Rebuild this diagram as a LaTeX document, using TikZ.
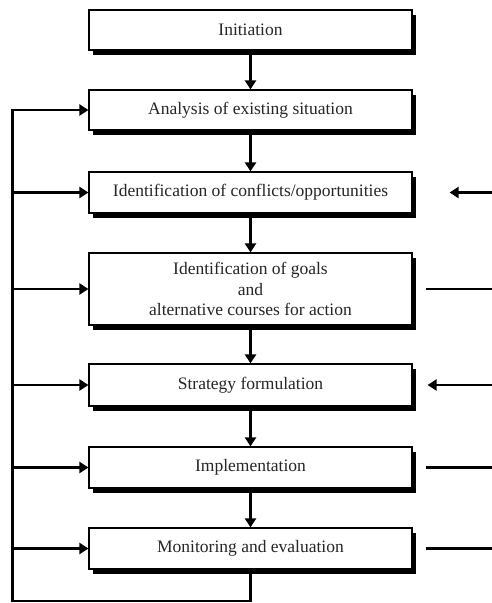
\documentclass[tikz,border=0pt]{standalone}
\usepackage{fontspec}
\setmainfont{Liberation Serif}
\usetikzlibrary{arrows.meta,shadows}

\begin{document}
\begin{tikzpicture}[x=1pt,y=1pt,
  stage/.style={draw=black,line width=1.2pt,fill=white,minimum width=323pt,
    inner sep=0pt,align=center,text=black!85,font=\fontsize{17.5}{20.5}\selectfont,
    drop shadow={shadow xshift=4pt,shadow yshift=-4.5pt,fill=black,opacity=1}},
  flow/.style={line width=2.5pt,-{Triangle[width=11pt,length=9pt]}},
  feed/.style={line width=2.5pt}]
\useasboundingbox (0,0) rectangle (492,-603);
% stages of the process:
\node[stage,minimum height=40pt] (init) at (250.5,-30) {Initiation};
\node[stage,minimum height=40pt] (anal) at (250.5,-110) {Analysis of existing situation};
\node[stage,minimum height=41pt] (conf) at (250.5,-192.5) {Identification of conflicts/opportunities};
\node[stage,minimum height=72pt] (goal) at (250.5,-289) {Identification of goals\\and\\alternative courses for action};
\node[stage,minimum height=42pt] (strat) at (250.5,-385) {Strategy formulation};
\node[stage,minimum height=41pt] (impl) at (250.5,-467.5) {Implementation};
\node[stage,minimum height=41pt] (moni) at (250.5,-548.5) {Monitoring and evaluation};
% downward arrows:
\draw[flow] (init.south) -- (anal.north);
\draw[flow] (anal.south) -- (conf.north);
\draw[flow] (conf.south) -- (goal.north);
\draw[flow] (goal.south) -- (strat.north);
\draw[flow] (strat.south) -- (impl.north);
\draw[flow] (impl.south) -- (moni.north);
% feedback loop on the left:
\coordinate (fbl) at (12.5,-601);
\draw[flow] (moni.south) |- (fbl) |- (anal.west);
\foreach \s in {conf,goal,strat,impl,moni}
  \draw[flow] (\s.west -| fbl) -- (\s.west);
% links on the right:
\coordinate (rgt) at (492,0);
\draw[flow] (conf.east -| rgt) -- ([xshift=37pt]conf.east);
\draw[feed] ([xshift=13pt]goal.east) -- (goal.east -| rgt);
\draw[flow] (strat.east -| rgt) -- ([xshift=15pt]strat.east);
\draw[feed] ([xshift=13pt]impl.east) -- (impl.east -| rgt);
\draw[feed] ([xshift=13pt]moni.east) -- (moni.east -| rgt);
\end{tikzpicture}
\end{document}
